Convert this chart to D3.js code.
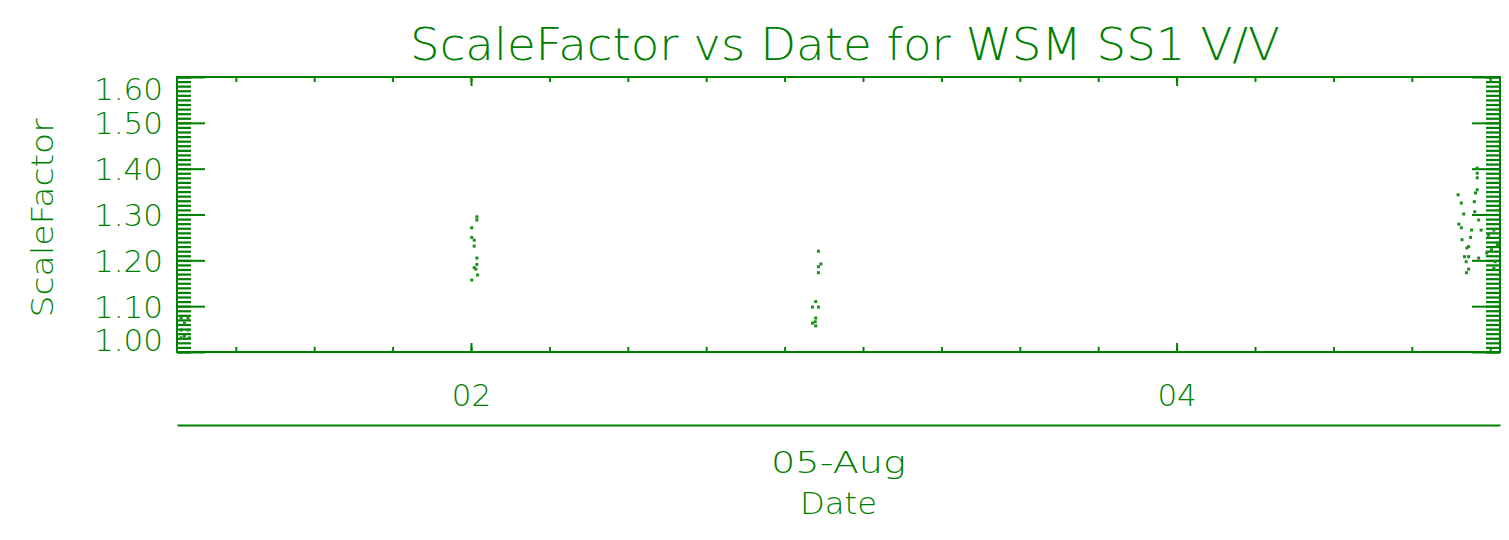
<!DOCTYPE html>
<html>
<head>
<meta charset="utf-8">
<script src="https://cdn.jsdelivr.net/npm/d3@7"></script>
<style>
  html, body { margin: 0; padding: 0; background: #ffffff; }
  svg { display: block; }
  text { font-family: "DejaVu Sans", "Liberation Sans", sans-serif; fill: #008000; }
</style>
</head>
<body>
<svg id="chart" width="1509" height="540"></svg>
<script>
// Observation times (UTC) and the scale factor measured at each time
const obsTime = [
  "2005-08-01 04:17", "2005-08-01 04:45", "2005-08-01 04:30", "2005-08-01 04:17",
  "2005-08-01 04:45", "2005-08-01 04:30", "2005-08-01 04:17", "2005-08-01 04:50",
  "2005-08-02 00:24", "2005-08-02 00:24", "2005-08-02 00:03", "2005-08-02 00:03",
  "2005-08-02 00:13", "2005-08-02 00:13", "2005-08-02 00:24", "2005-08-02 00:24",
  "2005-08-02 00:13", "2005-08-02 00:20", "2005-08-02 00:27", "2005-08-02 00:03",
  "2005-08-02 23:38", "2005-08-02 23:48", "2005-08-02 23:38", "2005-08-02 23:38",
  "2005-08-02 23:27", "2005-08-02 23:14", "2005-08-02 23:38", "2005-08-02 23:27",
  "2005-08-02 23:25", "2005-08-02 23:14", "2005-08-02 23:27",
  "2005-08-04 20:27", "2005-08-04 20:27", "2005-08-04 20:27", "2005-08-04 19:09",
  "2005-08-04 20:27", "2005-08-04 20:20", "2005-08-04 19:22", "2005-08-04 20:15",
  "2005-08-04 20:17", "2005-08-04 19:32", "2005-08-04 20:33", "2005-08-04 19:12",
  "2005-08-04 19:22", "2005-08-04 20:04", "2005-08-04 20:43", "2005-08-04 20:00",
  "2005-08-04 19:25", "2005-08-04 19:52", "2005-08-04 19:45", "2005-08-04 19:35",
  "2005-08-04 19:52", "2005-08-04 20:33", "2005-08-04 19:42", "2005-08-04 19:52",
  "2005-08-04 19:43", "2005-08-04 21:13", "2005-08-04 21:25", "2005-08-04 21:06",
  "2005-08-04 21:35", "2005-08-04 21:40", "2005-08-04 21:50", "2005-08-04 21:35"
];
const scaleFactor = [
  1.074, 1.074, 1.063, 1.048,
  1.048, 1.035, 1.031, 1.031,
  1.295, 1.288, 1.271, 1.250,
  1.244, 1.231, 1.205, 1.191,
  1.184, 1.181, 1.168, 1.157,
  1.220, 1.192, 1.186, 1.173,
  1.110, 1.098, 1.098, 1.074,
  1.066, 1.063, 1.057,
  1.401, 1.390, 1.380, 1.343,
  1.354, 1.347, 1.325, 1.328,
  1.306, 1.301, 1.288, 1.279,
  1.271, 1.266, 1.266, 1.250,
  1.245, 1.230, 1.227, 1.208,
  1.208, 1.205, 1.197, 1.181,
  1.173, 1.255, 1.223, 1.216,
  1.266, 1.197, 1.234, 1.183
];

// Axis settings
const timeRange = ["2005-08-01 04:00", "2005-08-04 22:00"];
const dayTicks = ["2005-08-02 00:00", "2005-08-04 00:00"];
const dayTickLabels = ["02", "04"];
const monthLabel = "05-Aug";
const yRange = [1.0, 1.6];
const yTicks = [1.00, 1.10, 1.20, 1.30, 1.40, 1.50, 1.60];
const titleText = "ScaleFactor vs Date for WSM SS1 V/V";
const xTitle = "Date";
const yTitle = "ScaleFactor";

const GREEN = "#008000";
const parse = d3.timeParse("%Y-%m-%d %H:%M");

const box = { left: 177, right: 1500, top: 77, bottom: 352 };
const svg = d3.select("#chart");

const x = d3.scaleTime().domain(timeRange.map(parse)).range([box.left, box.right]);
const y = d3.scaleLinear().domain(yRange).range([box.bottom, box.top]);

// Minor tick positions: 9 intervals between day labels, 0.01 steps on the value axis
const majorDates = dayTicks.map(parse);
const minorStep = (majorDates[1] - majorDates[0]) / 9;
const minorDates = [];
for (let t = +majorDates[0]; t >= +x.domain()[0]; t -= minorStep) minorDates.push(new Date(t));
for (let t = +majorDates[0] + minorStep; t <= +x.domain()[1]; t += minorStep) minorDates.push(new Date(t));
const yMinor = d3.range(0, 61).map(i => yRange[0] + i * 0.01);

function styleAxis(g) {
  g.select(".domain").remove();
  g.selectAll("line").attr("stroke", GREEN).attr("stroke-width", 2);
  g.selectAll("text").attr("fill", GREEN);
}

// Minor ticks
svg.append("g").attr("transform", `translate(${box.left},0)`)
  .call(d3.axisLeft(y).tickValues(yMinor).tickSize(-14).tickFormat(""))
  .call(styleAxis).selectAll("line").attr("stroke-width", 2.2);
svg.append("g").attr("transform", `translate(${box.right},0)`)
  .call(d3.axisRight(y).tickValues(yMinor).tickSize(-14).tickFormat(""))
  .call(styleAxis).selectAll("line").attr("stroke-width", 2.2);
svg.append("g").attr("transform", `translate(0,${box.bottom})`)
  .call(d3.axisBottom(x).tickValues(minorDates).tickSize(-5).tickFormat(""))
  .call(styleAxis);
svg.append("g").attr("transform", `translate(0,${box.top})`)
  .call(d3.axisTop(x).tickValues(minorDates).tickSize(-5).tickFormat(""))
  .call(styleAxis);

// Major ticks and labels
const leftAxis = svg.append("g").attr("transform", `translate(${box.left},0)`)
  .call(d3.axisLeft(y).tickValues(yTicks).tickSize(-28).tickPadding(14).tickFormat(d3.format(".2f")))
  .call(styleAxis);
leftAxis.selectAll("text")
  .attr("font-size", 31).attr("font-weight", 200)
  .attr("dy", null).attr("dominant-baseline", "central")
  .attr("y", d => {
    const p = y(d);
    return Math.max(box.top + 11.5, Math.min(box.bottom - 13, p)) - p;
  });
svg.append("g").attr("transform", `translate(${box.right},0)`)
  .call(d3.axisRight(y).tickValues(yTicks).tickSize(-28).tickFormat(""))
  .call(styleAxis);
svg.append("g").attr("transform", `translate(0,${box.bottom})`)
  .call(d3.axisBottom(x).tickValues(majorDates).tickSize(-9).tickPadding(32)
    .tickFormat((d, i) => dayTickLabels[i]))
  .call(styleAxis)
  .selectAll("text").attr("font-size", 31).attr("font-weight", 200);
svg.append("g").attr("transform", `translate(0,${box.top})`)
  .call(d3.axisTop(x).tickValues(majorDates).tickSize(-9).tickFormat(""))
  .call(styleAxis);

// Plot frame
svg.append("rect")
  .attr("x", box.left).attr("y", box.top)
  .attr("width", box.right - box.left).attr("height", box.bottom - box.top)
  .attr("fill", "none").attr("stroke", GREEN).attr("stroke-width", 2);

// Second date level (month) axis line
svg.append("g").attr("transform", "translate(0,425)")
  .call(d3.axisBottom(x).tickValues([]).tickSizeOuter(0))
  .select(".domain").attr("stroke", GREEN).attr("stroke-width", 2);

// Data points
const points = obsTime.map((t, i) => ({ t: parse(t), v: scaleFactor[i] }));
svg.append("g").selectAll("rect.pt").data(points).join("rect")
  .attr("class", "pt")
  .attr("x", d => x(d.t) - 1.5).attr("y", d => y(d.v) - 1.5)
  .attr("width", 3).attr("height", 3)
  .attr("fill", "#1b8f1b");

// Titles
const cx = (box.left + box.right) / 2;
function fitText(sel, len) {
  sel.attr("textLength", len).attr("lengthAdjust", "spacingAndGlyphs");
}
svg.append("text").attr("x", 845).attr("y", 60)
  .attr("text-anchor", "middle").attr("font-size", 45).attr("font-weight", 200)
  .text(titleText).call(fitText, 870);
svg.append("text").attr("x", cx).attr("y", 473)
  .attr("text-anchor", "middle").attr("font-size", 31).attr("font-weight", 200)
  .text(monthLabel).call(fitText, 135);
svg.append("text").attr("x", cx).attr("y", 514)
  .attr("text-anchor", "middle").attr("font-size", 31).attr("font-weight", 200)
  .text(xTitle).call(fitText, 77);
svg.append("text")
  .attr("transform", "translate(53,218) rotate(-90)")
  .attr("text-anchor", "middle").attr("font-size", 31).attr("font-weight", 200)
  .text(yTitle).call(fitText, 199);
</script>
</body>
</html>
